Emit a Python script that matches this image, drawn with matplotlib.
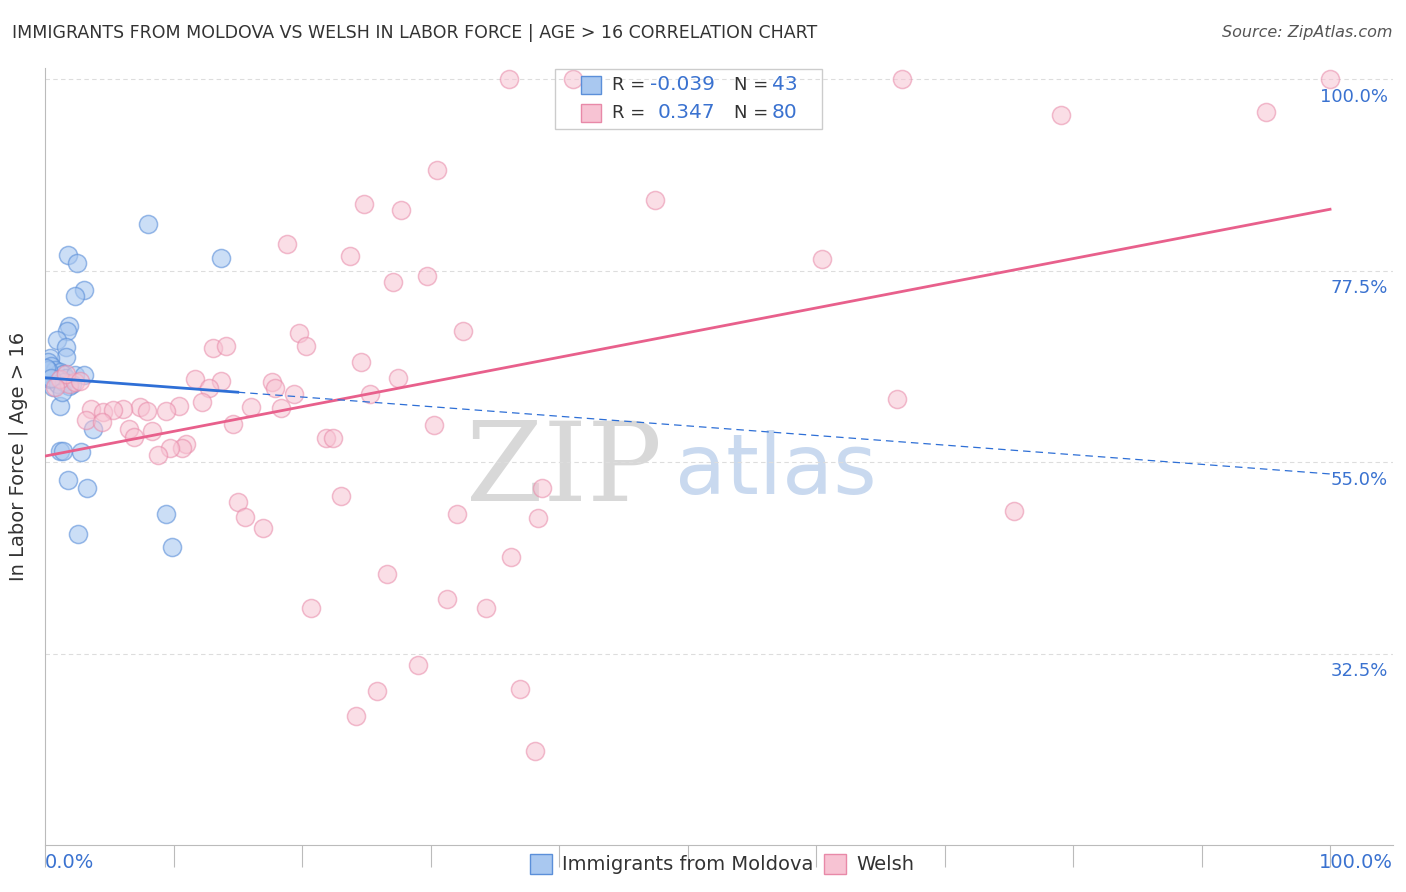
import numpy as np
from matplotlib import pyplot as plt
from matplotlib.patches import Rectangle

# ---- data (percent) ----
blue_x = [8.0, 1.8, 2.5, 13.7, 3.0, 2.3, 1.9, 1.7, 0.9, 1.6, 1.6, 0.4, 0.2, 0.5, 0.8, 1.2,
          1.4, 1.6, 2.3, 3.0, 2.1, 0.9, 0.6, 1.2, 3.7, 1.2, 1.4, 2.8, 1.8, 3.3, 2.6, 9.4,
          9.9, 0.4, 0.2, 1.0, 1.5, 1.9, 0.1, 0.5, 1.3]
blue_y = [83.0, 79.3, 78.4, 79.0, 75.2, 74.5, 71.0, 70.4, 69.3, 68.5, 67.3, 67.2, 66.7, 66.3,
          65.8, 65.6, 65.3, 64.9, 65.2, 65.2, 64.2, 64.7, 63.8, 61.6, 58.9, 56.3, 56.3, 56.2,
          52.9, 52.0, 46.5, 48.9, 45.0, 64.7, 65.8, 64.2, 64.4, 63.9, 66.0, 64.9, 63.2]
pink_x = [36.1, 41.1, 66.7, 100.0, 79.1, 95.0, 30.5, 47.5, 24.8, 27.7, 18.8, 23.7, 60.5, 29.7,
          27.1, 32.5, 19.8, 20.3, 13.1, 14.1, 24.6, 27.5, 11.7, 13.7, 17.7, 17.9, 12.8, 25.3,
          19.4, 16.0, 12.2, 18.4, 66.3, 10.4, 7.4, 6.1, 3.6, 4.5, 5.3, 7.9, 9.4, 3.2, 4.4,
          14.6, 6.5, 8.3, 30.3, 6.9, 11.0, 21.9, 22.4, 10.7, 9.7, 8.8, 15.0, 23.0, 38.7, 75.4,
          15.6, 32.1, 38.4, 17.0, 36.3, 26.6, 31.3, 34.3, 20.7, 29.0, 37.0, 25.8, 24.2, 38.1,
          1.9, 1.2, 2.3, 1.6, 2.7, 0.8]
pink_y = [100.0, 100.0, 100.0, 100.0, 95.8, 96.1, 89.3, 85.8, 85.3, 84.6, 80.6, 79.2, 78.8,
          76.9, 76.1, 70.4, 70.2, 68.6, 68.4, 68.6, 66.7, 64.9, 64.8, 64.5, 64.4, 63.7, 63.7,
          63.0, 63.0, 61.5, 62.0, 61.4, 62.4, 61.6, 61.5, 61.2, 61.2, 60.9, 61.1, 61.0, 61.0,
          59.9, 59.7, 59.5, 58.9, 58.7, 59.3, 58.0, 57.1, 57.8, 57.8, 56.7, 56.6, 55.8, 50.3,
          51.0, 51.9, 49.2, 48.5, 48.9, 48.4, 47.2, 43.8, 41.9, 38.9, 37.9, 37.8, 31.2, 28.3,
          28.1, 25.1, 21.0, 64.2, 64.8, 64.4, 65.3, 64.5, 63.8]
pink_fit = (55.7, 84.7)          # y at x=0 and x=100
blue_fit = (64.9, 53.6)
y_ticks = [32.5, 55.0, 77.5, 100.0]

BLUE_E, BLUE_F = "#5b8fd9", "#a9c8f0"
PINK_E, PINK_F = "#e889a8", "#f7c3d3"

fig = plt.figure(figsize=(14.06, 8.92), dpi=100)
ax = fig.add_axes([45/1406, 1 - 845/892, (1393-45)/1406, (845-68)/892])
ax.set_xlim(0, 104.9)
ax.set_ylim(10.0, 101.3)

ax.scatter(blue_x, blue_y, s=170, facecolor=BLUE_F, edgecolor=BLUE_E, alpha=0.6, lw=1.1, zorder=3)
ax.scatter(pink_x, pink_y, s=170, facecolor=PINK_F, edgecolor=PINK_E, alpha=0.55, lw=1.1, zorder=3)

xs = np.array([0, 100])
ax.plot(xs, pink_fit, color="#e8608c", lw=2, zorder=4)
bslope = (blue_fit[1] - blue_fit[0]) / 100
ax.plot([0, 15], [blue_fit[0], blue_fit[0] + 15*bslope], color="#2e6fd6", lw=2, zorder=4)
ax.plot([15, 100], [blue_fit[0] + 15*bslope, blue_fit[1]], color="#2e6fd6", lw=0.9, ls=(0, (6, 4)), zorder=4)

for yt in y_ticks:
    ax.axhline(yt, color="#dddddd", lw=0.8, ls=(0, (4, 3)), zorder=1)
    ax.text(104.5, yt - 2.1, f"{yt:.1f}%", color="#3a72d0", fontsize=13, ha="right", va="center")

for s in ["top", "right"]:
    ax.spines[s].set_visible(False)
ax.spines["left"].set_color("#bbbbbb")
ax.spines["bottom"].set_color("#bbbbbb")
ax.set_yticks([])
ax.set_xticks(np.arange(0, 101, 10))
ax.tick_params(axis="x", length=16, color="#bbbbbb", labelbottom=False)
ax.set_ylabel("In Labor Force | Age > 16", fontsize=14, color="#333333", labelpad=12)

fig.text(45/1406, 1 - 863/892, "0.0%", color="#3a72d0", fontsize=14, ha="left", va="center")
fig.text(1393/1406, 1 - 863/892, "100.0%", color="#3a72d0", fontsize=14, ha="right", va="center")
fig.text(12/1406, 1 - 33/892, "IMMIGRANTS FROM MOLDOVA VS WELSH IN LABOR FORCE | AGE > 16 CORRELATION CHART",
         fontsize=12.5, color="#333333", va="center")
fig.text(1393/1406, 1 - 33/892, "Source: ZipAtlas.com", fontsize=11.5, color="#555555",
         ha="right", va="center", style="italic")

# watermark
ax.text(48, 54, "ZIP", fontsize=80, color="#d8d8d8", ha="right", va="center", family="DejaVu Serif", zorder=0)
ax.text(49, 54, "atlas", fontsize=60, color="#c9d9ef", ha="left", va="center", zorder=0)

# legend box (top)
lg = fig.add_axes([554/1406, 1 - 130/892, (823-554)/1406, 62/892])
lg.set_xlim(0, 269); lg.set_ylim(62, 0); lg.axis("off")
lg.add_patch(Rectangle((0.5, 0.5), 268, 60.5, fill=False, ec="#cccccc", lw=1, clip_on=False))
for yy, fc, ec, r, n in [(17, BLUE_F, BLUE_E, "-0.039", "43"), (45, PINK_F, PINK_E, "0.347", "80")]:
    lg.add_patch(Rectangle((27, yy - 9), 20, 18, fc=fc, ec=ec, lw=1))
    lg.text(58, yy, "R =", fontsize=13, color="#333333", va="center")
    lg.text(161, yy, r, fontsize=14.5, color="#3a72d0", va="center", ha="right")
    lg.text(180, yy, "N =", fontsize=13, color="#333333", va="center")
    lg.text(218, yy, n, fontsize=14.5, color="#3a72d0", va="center")

# bottom legend
for x0, fc, ec, lab in [(530, BLUE_F, BLUE_E, "Immigrants from Moldova"), (824, PINK_F, PINK_E, "Welsh")]:
    fig.patches.append(Rectangle((x0/1406, 1 - 874/892), 22/1406, 20/892, fc=fc, ec=ec, lw=1,
                                 transform=fig.transFigure, figure=fig))
    fig.text((x0 + 32)/1406, 1 - 864/892, lab, fontsize=14, color="#333333", va="center")

fig.savefig("out.png", dpi=100)
